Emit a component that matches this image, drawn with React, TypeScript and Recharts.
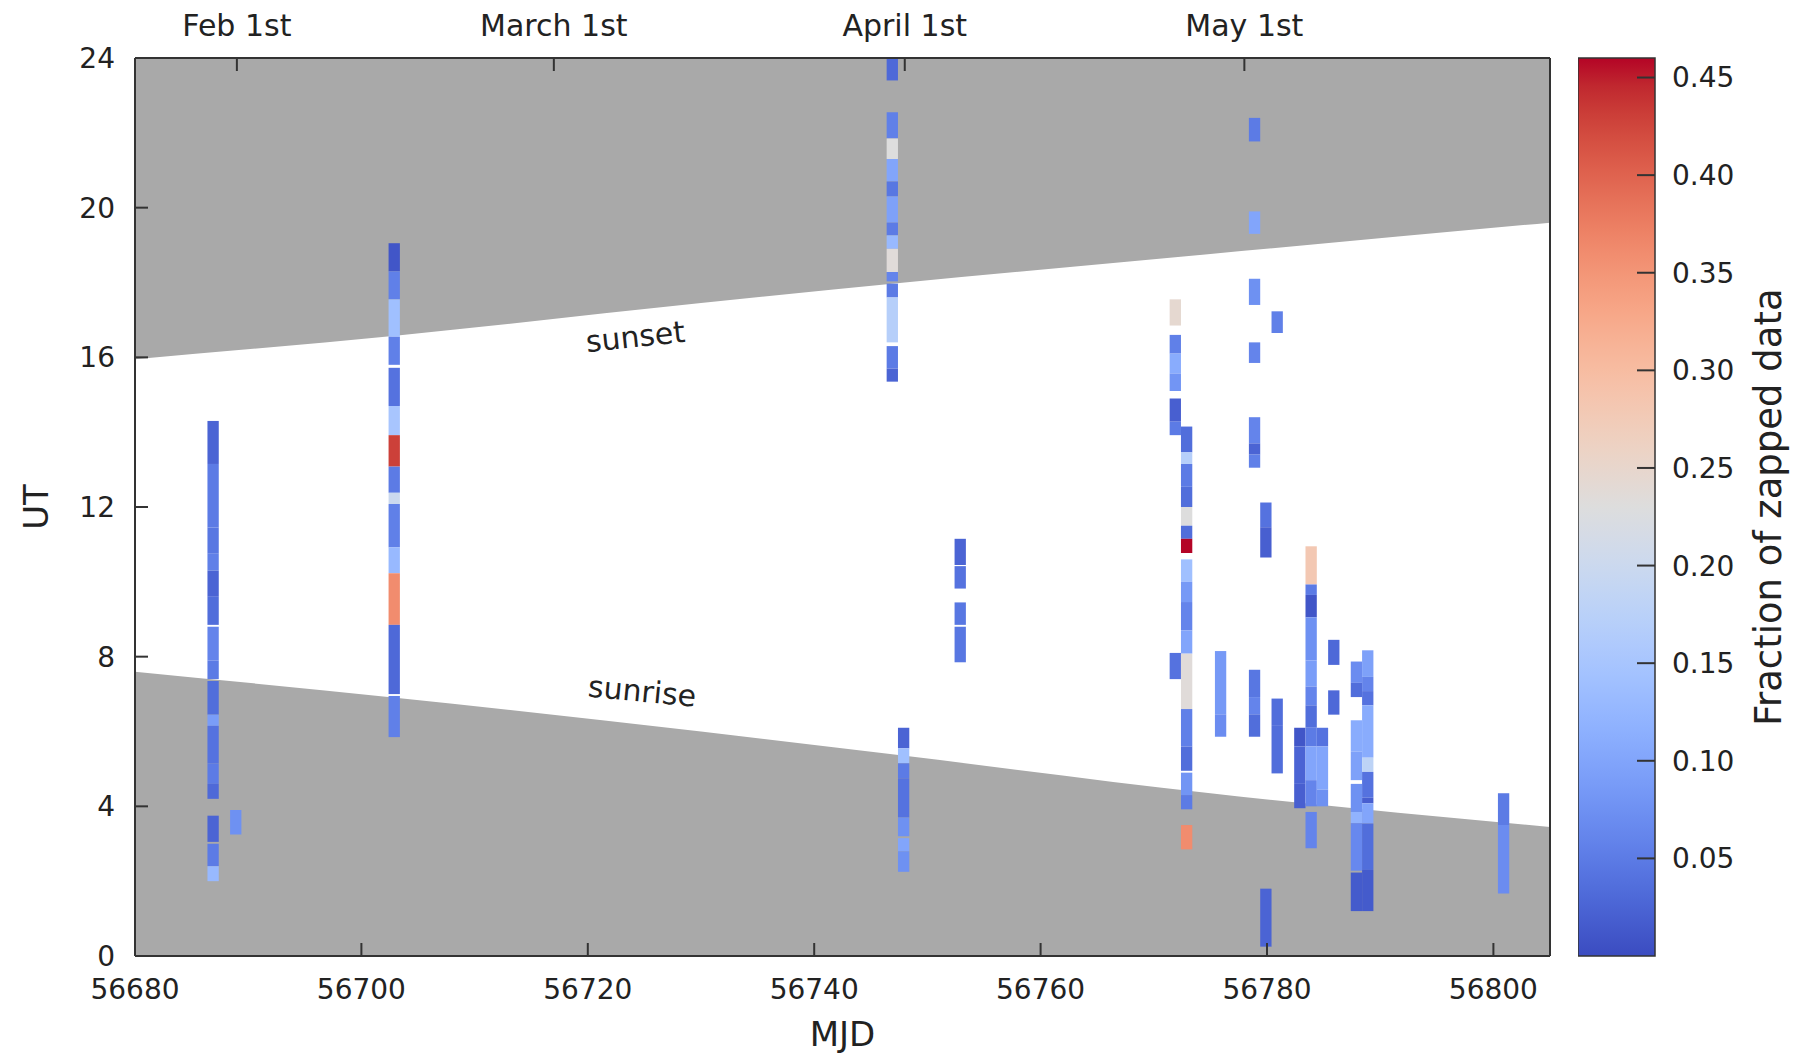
import React from "react";
import { ComposedChart, Area, XAxis, YAxis, ReferenceArea, ReferenceDot } from "recharts";

// axis ticks
const mjdTicks = [56680, 56700, 56720, 56740, 56760, 56780, 56800];
const utTicks = [0, 4, 8, 12, 16, 20, 24];
const monthTicks = [56689, 56717, 56748, 56778];
const monthLabels = ["Feb 1st", "March 1st", "April 1st", "May 1st"];
const colorbarTicks = [0.05, 0.1, 0.15, 0.2, 0.25, 0.3, 0.35, 0.4, 0.45];

// sunrise / sunset in UT hours
const twilightMjd = [56680, 56703, 56730, 56748, 56775, 56805];
const sunsetUt = [15.95, 16.58, 17.45, 18.0, 18.76, 19.6];
const sunriseUt = [7.6, 6.9, 6.0, 5.35, 4.35, 3.45];

// [mjd, ut from, ut to, fraction zapped]
type Cell = [number, number, number, number];

const febCells: Cell[] = [
  [56687, 13.15, 14.3, 0.025],
  [56687, 11.45, 13.15, 0.05],
  [56687, 10.75, 11.45, 0.045],
  [56687, 10.3, 10.75, 0.055],
  [56687, 9.6, 10.3, 0.025],
  [56687, 8.85, 9.6, 0.035],
  [56687, 7.9, 8.8, 0.06],
  [56687, 7.4, 7.9, 0.05],
  [56687, 6.45, 7.35, 0.035],
  [56687, 6.15, 6.45, 0.09],
  [56687, 5.15, 6.15, 0.04],
  [56687, 4.6, 5.15, 0.05],
  [56687, 4.2, 4.6, 0.03],
  [56687, 3.05, 3.75, 0.025],
  [56687, 2.4, 3.0, 0.05],
  [56687, 2.0, 2.4, 0.13],
  [56689, 3.25, 3.9, 0.075],
  [56703, 18.3, 19.05, 0.01],
  [56703, 17.55, 18.3, 0.055],
  [56703, 16.55, 17.55, 0.14],
  [56703, 15.8, 16.55, 0.055],
  [56703, 14.7, 15.72, 0.04],
  [56703, 13.92, 14.7, 0.15],
  [56703, 13.08, 13.92, 0.43],
  [56703, 12.38, 13.08, 0.05],
  [56703, 12.08, 12.38, 0.2],
  [56703, 10.92, 12.08, 0.055],
  [56703, 10.23, 10.92, 0.13],
  [56703, 8.85, 10.23, 0.36],
  [56703, 7.0, 8.85, 0.03],
  [56703, 5.85, 6.95, 0.055],
];

const aprilCells: Cell[] = [
  [56747, 23.4, 24, 0.03],
  [56747, 21.85, 22.55, 0.055],
  [56747, 21.3, 21.85, 0.23],
  [56747, 20.7, 21.3, 0.1],
  [56747, 20.3, 20.7, 0.045],
  [56747, 19.6, 20.3, 0.095],
  [56747, 19.26, 19.6, 0.05],
  [56747, 18.9, 19.26, 0.13],
  [56747, 18.28, 18.9, 0.235],
  [56747, 18.03, 18.28, 0.06],
  [56747, 17.6, 17.97, 0.05],
  [56747, 16.4, 17.6, 0.17],
  [56747, 15.7, 16.3, 0.05],
  [56747, 15.35, 15.7, 0.025],
  [56748, 5.55, 6.1, 0.025],
  [56748, 5.15, 5.55, 0.14],
  [56748, 4.75, 5.15, 0.05],
  [56748, 3.7, 4.75, 0.04],
  [56748, 3.2, 3.7, 0.075],
  [56748, 2.8, 3.15, 0.1],
  [56748, 2.25, 2.8, 0.075],
  [56753, 10.45, 11.15, 0.025],
  [56753, 9.82, 10.42, 0.04],
  [56753, 8.85, 9.45, 0.045],
  [56753, 7.85, 8.8, 0.045],
];

const mayCells: Cell[] = [
  [56772, 16.85, 17.55, 0.245],
  [56772, 16.1, 16.6, 0.055],
  [56772, 15.57, 16.1, 0.11],
  [56772, 15.1, 15.57, 0.08],
  [56772, 14.28, 14.9, 0.02],
  [56772, 13.92, 14.28, 0.05],
  [56772, 7.4, 8.1, 0.04],
  [56773, 13.46, 14.15, 0.035],
  [56773, 13.15, 13.46, 0.17],
  [56773, 12.54, 13.15, 0.05],
  [56773, 12.0, 12.54, 0.035],
  [56773, 11.5, 12.0, 0.23],
  [56773, 11.15, 11.5, 0.035],
  [56773, 10.77, 11.15, 0.46],
  [56773, 10.0, 10.6, 0.14],
  [56773, 9.46, 10.0, 0.085],
  [56773, 8.7, 9.46, 0.06],
  [56773, 8.08, 8.7, 0.1],
  [56773, 6.6, 8.08, 0.235],
  [56773, 5.6, 6.6, 0.055],
  [56773, 4.95, 5.6, 0.035],
  [56773, 4.3, 4.9, 0.08],
  [56773, 3.92, 4.3, 0.05],
  [56773, 2.85, 3.5, 0.36],
  [56776, 6.46, 8.15, 0.085],
  [56776, 5.86, 6.46, 0.07],
  [56779, 21.77, 22.4, 0.05],
  [56779, 19.3, 19.9, 0.1],
  [56779, 17.4, 18.1, 0.075],
  [56779, 15.85, 16.4, 0.06],
  [56779, 13.7, 14.4, 0.06],
  [56779, 13.4, 13.7, 0.025],
  [56779, 13.05, 13.4, 0.055],
  [56779, 6.92, 7.65, 0.045],
  [56779, 6.46, 6.92, 0.06],
  [56779, 5.86, 6.46, 0.035],
  [56780, 11.46, 12.12, 0.04],
  [56780, 10.65, 11.46, 0.02],
  [56780, 0.25, 1.8, 0.025],
  [56781, 16.65, 17.23, 0.055],
  [56781, 6.15, 6.88, 0.035],
  [56781, 4.88, 6.15, 0.035],
];

const lateCells: Cell[] = [
  [56783, 5.6, 6.1, 0.01],
  [56783, 4.6, 5.6, 0.025],
  [56783, 3.95, 4.6, 0.02],
  [56784, 9.93, 10.95, 0.28],
  [56784, 9.65, 9.93, 0.05],
  [56784, 9.05, 9.65, 0.01],
  [56784, 7.9, 9.05, 0.075],
  [56784, 7.2, 7.9, 0.09],
  [56784, 6.7, 7.2, 0.06],
  [56784, 6.1, 6.7, 0.035],
  [56784, 5.6, 6.1, 0.05],
  [56784, 4.7, 5.6, 0.1],
  [56784, 4.0, 4.7, 0.06],
  [56784, 2.88, 3.85, 0.06],
  [56785, 5.6, 6.1, 0.04],
  [56785, 4.45, 5.6, 0.1],
  [56785, 4.0, 4.45, 0.075],
  [56786, 7.78, 8.45, 0.03],
  [56786, 6.45, 7.1, 0.03],
  [56788, 7.3, 7.87, 0.07],
  [56788, 6.92, 7.3, 0.035],
  [56788, 5.46, 6.3, 0.11],
  [56788, 4.7, 5.46, 0.095],
  [56788, 3.85, 4.6, 0.075],
  [56788, 3.55, 3.85, 0.12],
  [56788, 2.28, 3.55, 0.065],
  [56788, 1.2, 2.23, 0.015],
  [56789, 7.46, 8.17, 0.095],
  [56789, 7.08, 7.46, 0.06],
  [56789, 6.7, 7.08, 0.04],
  [56789, 5.3, 6.7, 0.11],
  [56789, 4.92, 5.3, 0.18],
  [56789, 4.23, 4.92, 0.04],
  [56789, 4.08, 4.23, 0.02],
  [56789, 3.54, 4.08, 0.1],
  [56789, 2.3, 3.54, 0.035],
  [56789, 1.2, 2.3, 0.015],
  [56801, 3.5, 4.35, 0.05],
  [56801, 1.67, 3.5, 0.07],
];

const allCells = [...febCells, ...aprilCells, ...mayCells, ...lateCells];
const nightData = twilightMjd.map((m, i) => ({ mjd: m, morning: sunriseUt[i], evening: [sunsetUt[i], 24] }));

const FRACTION_MAX = 0.46;
const colorbarData = [{ x: 0, f: 0 }, { x: 1, f: FRACTION_MAX }];
const CELL_LEFT = 0.6;
const CELL_RIGHT = 0.4;
const FONT = '"DejaVu Sans", sans-serif';
const INK = "#222";
const FRAME = "#333";

// matplotlib coolwarm
const coolwarm = [
  [59, 76, 192], [68, 90, 204], [77, 104, 215], [87, 117, 225], [98, 130, 234], [108, 142, 241],
  [119, 154, 247], [130, 165, 251], [141, 176, 254], [152, 185, 255], [163, 194, 255], [174, 201, 253],
  [184, 208, 249], [194, 213, 244], [204, 217, 238], [213, 219, 230], [221, 221, 221], [229, 216, 209],
  [236, 211, 197], [241, 204, 185], [245, 196, 173], [247, 187, 160], [247, 177, 148], [247, 166, 135],
  [244, 154, 123], [241, 141, 111], [236, 127, 99], [229, 112, 88], [222, 96, 77], [213, 80, 66],
  [203, 62, 56], [192, 40, 47], [180, 4, 38],
];

function cmap(v: number) {
  const t = Math.max(0, Math.min(1, v / FRACTION_MAX)) * (coolwarm.length - 1);
  const i = Math.min(coolwarm.length - 2, Math.floor(t));
  const f = t - i;
  const a = coolwarm[i], b = coolwarm[i + 1];
  const c = a.map((x, k) => Math.round(x + (b[k] - x) * f));
  return `rgb(${c[0]},${c[1]},${c[2]})`;
}

const UtLabel = (props: any) => {
  const { x, y, height } = props.viewBox;
  const cx = x + 36;
  const cy = y + height / 2;
  return (
    <text x={cx} y={cy} transform={`rotate(-90 ${cx} ${cy})`} textAnchor="middle" dominantBaseline="central"
      fontSize={34} fill={INK} fontFamily={FONT}>UT</text>
  );
};

const MjdLabel = (props: any) => {
  const { x, y, width } = props.viewBox;
  return (
    <text x={x + width / 2} y={y + 78} textAnchor="middle" dominantBaseline="central"
      fontSize={34} fill={INK} fontFamily={FONT}>MJD</text>
  );
};

const FractionLabel = (props: any) => {
  const { x, y, height } = props.viewBox;
  const cx = x + 113;
  const cy = y + height / 2;
  return (
    <text x={cx} y={cy} transform={`rotate(-90 ${cx} ${cy})`} textAnchor="middle" dominantBaseline="central"
      fontSize={37} fill={INK} fontFamily={FONT}>Fraction of zapped data</text>
  );
};

const tickStyle = { fontSize: 28, fill: INK, fontFamily: FONT };

export default function App() {
  return (
    <div style={{ position: "absolute", left: 0, top: 0, width: 1806, height: 1056, background: "#fff", overflow: "hidden", fontFamily: FONT }}>
      <div style={{ position: "absolute", left: 0, top: 0 }}>
        <ComposedChart width={1570} height={1056} data={nightData} margin={{ top: 0, right: 0, bottom: 0, left: 0 }}>
          <Area dataKey="evening" type="monotone" fill="#a9a9a9" fillOpacity={1} stroke="none" isAnimationActive={false} activeDot={false} dot={false} />
          <Area dataKey="morning" type="monotone" baseValue={0} fill="#a9a9a9" fillOpacity={1} stroke="none" isAnimationActive={false} activeDot={false} dot={false} />
          {allCells.map(([m, lo, hi, v], i) => (
            <ReferenceArea key={i} x1={m - CELL_LEFT} x2={m + CELL_RIGHT} y1={lo} y2={hi}
              fill={cmap(v)} fillOpacity={1} stroke="none" />
          ))}
          <ReferenceDot x={56724.2} y={16.56} r={0} fill="none" stroke="none"
            label={{ value: "sunset", position: "center", angle: -6, fontSize: 30, fill: INK, fontFamily: FONT }} />
          <ReferenceDot x={56724.8} y={7.08} r={0} fill="none" stroke="none"
            label={{ value: "sunrise", position: "center", angle: 5.5, fontSize: 30, fill: INK, fontFamily: FONT }} />
          <XAxis dataKey="mjd" type="number" domain={[56680, 56805]} ticks={mjdTicks} height={100}
            tickSize={-13} tickMargin={36} tick={tickStyle}
            axisLine={{ stroke: FRAME, strokeWidth: 2 }} tickLine={{ stroke: FRAME, strokeWidth: 2 }}
            label={<MjdLabel />} />
          <XAxis xAxisId="top" orientation="top" dataKey="mjd" type="number" domain={[56680, 56805]} ticks={monthTicks}
            height={58} tickSize={-13} tickMargin={35} tick={{ ...tickStyle, fontSize: 30 }}
            tickFormatter={(v: number) => monthLabels[monthTicks.indexOf(v)]}
            axisLine={{ stroke: FRAME, strokeWidth: 2 }} tickLine={{ stroke: FRAME, strokeWidth: 2 }} />
          <YAxis type="number" domain={[0, 24]} ticks={utTicks} width={135}
            tickSize={-13} tickMargin={33} tick={tickStyle}
            axisLine={{ stroke: FRAME, strokeWidth: 2 }} tickLine={{ stroke: FRAME, strokeWidth: 2 }}
            label={<UtLabel />} />
          <YAxis yAxisId="right" orientation="right" dataKey="morning" type="number" domain={[0, 24]} ticks={utTicks} width={20}
            tickSize={-13} tick={false}
            axisLine={{ stroke: FRAME, strokeWidth: 2 }} tickLine={{ stroke: FRAME, strokeWidth: 2 }} />
        </ComposedChart>
      </div>
      <div style={{ position: "absolute", left: 1578, top: 0 }}>
        <ComposedChart width={228} height={1056} data={colorbarData} margin={{ top: 58, right: 0, bottom: 100, left: 0 }}>
          <defs>
            <linearGradient id="coolwarmBar" x1="0" y1="1" x2="0" y2="0">
              {coolwarm.map((c, i) => (
                <stop key={i} offset={`${(i / (coolwarm.length - 1)) * 100}%`} stopColor={`rgb(${c[0]},${c[1]},${c[2]})`} />
              ))}
            </linearGradient>
          </defs>
          <XAxis dataKey="x" type="number" domain={[0, 1]} hide />
          <ReferenceArea x1={0} x2={1} y1={0} y2={FRACTION_MAX} fill="url(#coolwarmBar)" fillOpacity={1}
            stroke={FRAME} strokeWidth={1.5} />
          <YAxis orientation="right" dataKey="f" type="number" domain={[0, FRACTION_MAX]} ticks={colorbarTicks} width={151}
            tickSize={-18} tickMargin={35} tick={{ ...tickStyle, fontSize: 28 }} axisLine={false}
            tickLine={{ stroke: FRAME, strokeWidth: 2 }}
            tickFormatter={(v: number) => v.toFixed(2)} label={<FractionLabel />} />
        </ComposedChart>
      </div>
    </div>
  );
}
